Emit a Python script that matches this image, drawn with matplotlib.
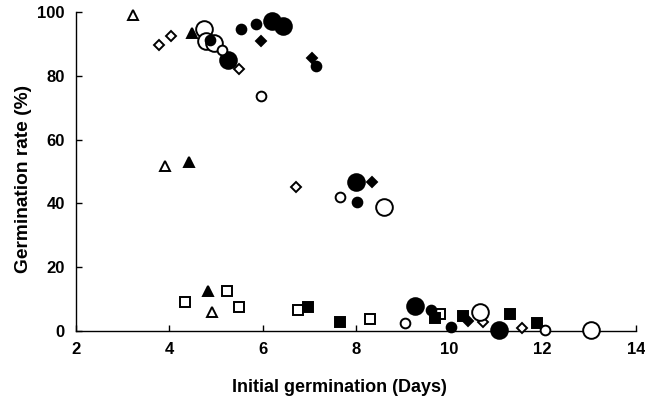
import matplotlib.pyplot as plt

plt.rcParams['font.family'] = ['Liberation Sans', 'DejaVu Sans']

# data: (days, germination %)
open_tri_x = [3.22, 3.91, 4.91]
open_tri_y = [99.0, 51.7, 6.0]
fill_tri_x = [4.48, 4.42, 4.83]
fill_tri_y = [93.4, 53.0, 12.5]

open_dia_x = [3.78, 4.03, 5.49, 6.71, 10.72, 11.55]
open_dia_y = [89.7, 92.5, 82.1, 45.1, 2.8, 0.9]
fill_dia_x = [5.96, 7.05, 8.34, 10.39]
fill_dia_y = [90.9, 85.6, 46.7, 3.1]

small_open_x = [5.13, 5.96, 7.65, 9.05, 12.06]
small_open_y = [88.1, 73.7, 42.0, 2.5, 0.3]
small_fill_x = [4.87, 5.53, 5.85, 7.14, 8.02, 9.60, 10.03]
small_fill_y = [91.2, 94.7, 96.2, 83.1, 40.4, 6.6, 1.3]

big_open_x = [4.74, 4.78, 4.96, 8.60, 10.65, 13.03]
big_open_y = [94.7, 90.9, 90.3, 38.9, 6.0, 0.3]
big_fill_x = [5.25, 6.20, 6.43, 8.00, 9.26, 11.06]
big_fill_y = [85.0, 97.2, 95.6, 46.7, 7.8, 0.3]

open_sq_x = [4.33, 5.23, 5.49, 6.75, 8.30, 9.79]
open_sq_y = [9.1, 12.5, 7.5, 6.6, 3.8, 5.3]
fill_sq_x = [6.97, 7.65, 9.69, 10.29, 11.31, 11.87]
fill_sq_y = [7.5, 2.8, 4.1, 4.7, 5.3, 2.5]

xticks = [2, 4, 6, 8, 10, 12, 14]
yticks = [0, 20, 40, 60, 80, 100]

fig = plt.figure(figsize=(6.45, 4.03), dpi=100)
ax = fig.add_axes([0.118, 0.179, 0.868, 0.791])


def pts(x, y, marker, size, filled):
    ax.plot(x, y, linestyle='none', marker=marker, markersize=size,
            markerfacecolor='black' if filled else 'white',
            markeredgecolor='black', markeredgewidth=1.4, clip_on=False, zorder=3)


pts(open_tri_x, open_tri_y, '^', 7, False)
pts(fill_tri_x, fill_tri_y, '^', 7, True)
pts(open_dia_x, open_dia_y, 'D', 5.3, False)
pts(fill_dia_x, fill_dia_y, 'D', 5.5, True)
pts(open_sq_x, open_sq_y, 's', 6.5, False)
pts(fill_sq_x, fill_sq_y, 's', 6.5, True)
pts(big_open_x, big_open_y, 'o', 12, False)
pts(big_fill_x, big_fill_y, 'o', 12, True)
pts(small_open_x, small_open_y, 'o', 7, False)
pts(small_fill_x, small_fill_y, 'o', 7, True)

ax.set_xlim(2, 14)
ax.set_ylim(0, 100)
ax.set_xticks(xticks)
ax.set_yticks(yticks)
ax.spines['top'].set_visible(False)
ax.spines['right'].set_visible(False)
for s in ['left', 'bottom']:
    ax.spines[s].set_linewidth(1.0)
ax.tick_params(direction='in', length=4, width=1.0, labelsize=12, pad=8)
for lab in ax.get_xticklabels() + ax.get_yticklabels():
    lab.set_fontweight('bold')

ax.set_xlabel('Initial germination (Days)', fontsize=13, fontweight='bold')
ax.set_ylabel('Germination rate (%)', fontsize=13.8, fontweight='bold')
ax.xaxis.set_label_coords(0.47, -0.15)
ax.yaxis.set_label_coords(-0.079, 0.476)

fig.savefig('out.png', dpi=100)
